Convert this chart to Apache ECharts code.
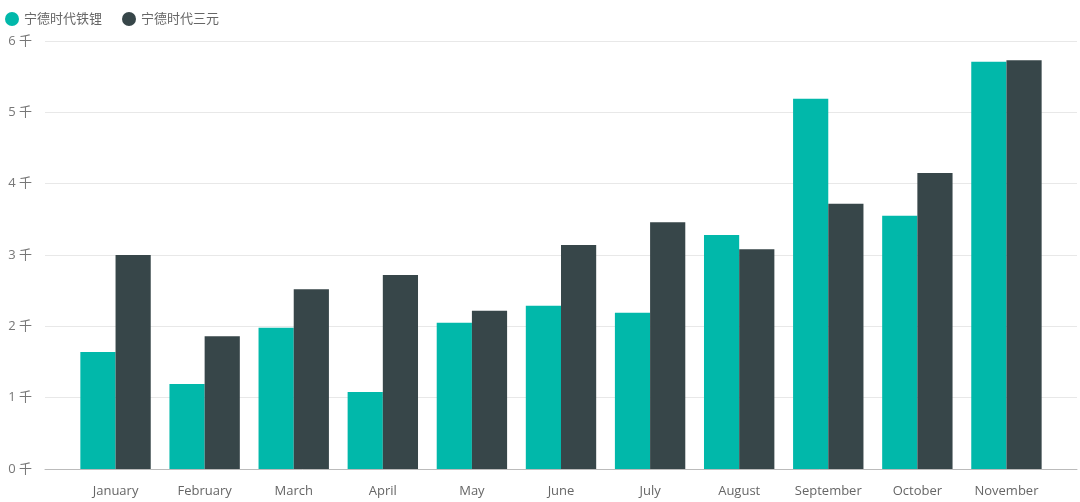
<!DOCTYPE html>
<html>
<head>
<meta charset="utf-8">
<script src="https://cdn.jsdelivr.net/npm/echarts@6/dist/echarts.min.js"></script>
<style>html,body{margin:0;padding:0;background:#fff}#c{width:1080px;height:502px}</style>
</head>
<body>
<div id="c"></div>
<script>
const categories = ['January','February','March','April','May','June','July','August','September','October','November'];
const seriesNames = ['宁德时代铁锂','宁德时代三元'];
const lfpValues = [1.64, 1.19, 1.98, 1.08, 2.05, 2.29, 2.19, 3.28, 5.19, 3.55, 5.71];
const ncmValues = [3.00, 1.86, 2.52, 2.72, 2.22, 3.14, 3.46, 3.08, 3.72, 4.15, 5.73];
const yTicks = [0, 1, 2, 3, 4, 5, 6];
const colors = ['#01B8AA', '#374649'];

const font = '"Open Sans","Noto Sans CJK SC",sans-serif';
const chart = echarts.init(document.getElementById('c'));
chart.setOption({
  animation: false,
  textStyle: { fontFamily: font },
  color: colors,
  legend: {
    left: 0, top: 7, icon: 'circle', itemWidth: 14, itemHeight: 14, itemGap: 20,
    textStyle: { fontSize: 13, color: '#666', fontFamily: font },
    data: seriesNames
  },
  grid: [
    { left: 71, right: 29, top: 41, bottom: 33 },
    { left: 45, right: 3, top: 41, bottom: 33 }
  ],
  xAxis: [
    { type: 'category', gridIndex: 0, data: categories,
      axisLine: { show: false }, axisTick: { show: false },
      axisLabel: { color: '#666', fontSize: 13, margin: 16, fontFamily: font, interval: 0 } },
    { type: 'value', gridIndex: 1, min: 0, max: 1, show: true,
      axisLine: { show: true, lineStyle: { color: '#bbb' } }, axisTick: { show: false },
      axisLabel: { show: false }, splitLine: { show: false } }
  ],
  yAxis: [
    { type: 'value', gridIndex: 0, min: 0, max: 6, interval: 1, show: false },
    { type: 'value', gridIndex: 1, min: yTicks[0], max: yTicks[yTicks.length - 1], interval: 1,
      axisLine: { show: false }, axisTick: { show: false },
      axisLabel: { color: '#777', fontSize: 13, margin: 13, fontFamily: font,
        formatter: v => v + ' 千' },
      splitLine: { lineStyle: { color: '#e8e8e8' } } }
  ],
  series: [
    { name: seriesNames[0], type: 'bar', xAxisIndex: 0, yAxisIndex: 0, data: lfpValues,
      barGap: '0%', barCategoryGap: '21%', itemStyle: { color: colors[0] } },
    { name: seriesNames[1], type: 'bar', xAxisIndex: 0, yAxisIndex: 0, data: ncmValues,
      barGap: '0%', barCategoryGap: '21%', itemStyle: { color: colors[1] } }
  ]
});
</script>
</body>
</html>
